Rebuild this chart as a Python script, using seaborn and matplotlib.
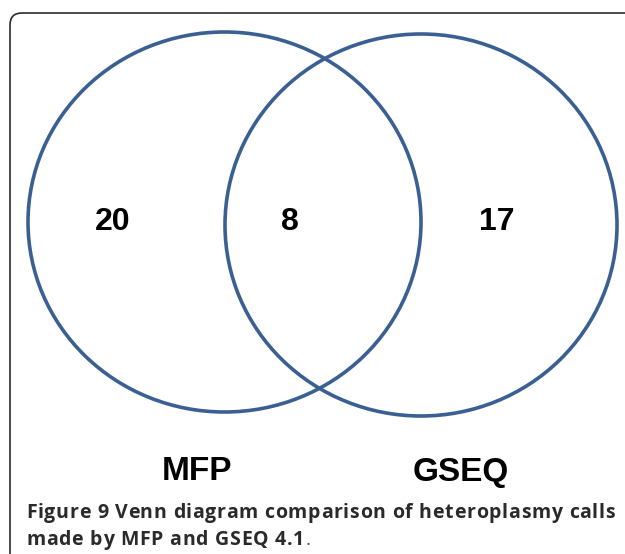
import matplotlib
matplotlib.use("Agg")
import matplotlib.pyplot as plt
import matplotlib.patches as mpatches
import seaborn as sns

# Venn data
set_names = ["MFP", "GSEQ"]
region_counts = [20, 8, 17]          # MFP only, both, GSEQ only
caption_line_1 = "Figure 9 Venn diagram comparison of heteroplasmy calls"
caption_line_2 = "made by MFP and GSEQ 4.1"

sns.set_theme(style="white")
plt.rcParams['font.family'] = ['Liberation Sans', 'DejaVu Sans']

W, H = 625, 554
fig = plt.figure(figsize=(W / 100, H / 100), dpi=100)
ax = fig.add_axes([0, 0, 1, 1])
ax.set_xlim(0, W)
ax.set_ylim(H, 0)
ax.axis('off')

# outer frame (rounded top-left, runs off right and bottom)
frame = mpatches.FancyBboxPatch((10, 13), 800, 800,
                                boxstyle="round,pad=0,rounding_size=12",
                                facecolor='none', edgecolor='#2b2b2b', lw=1.2)
ax.add_patch(frame)

# circle layout (pixel coords)
circles = [(224.5, 222, 393, 380), (421, 225, 392, 382)]
line_col = '#3a5f92'
for cx, cy, w, h in circles:
    ax.add_patch(mpatches.Ellipse((cx, cy), w, h, facecolor='none',
                                  edgecolor=line_col, lw=2.6))

count_x = [113, 290, 497]
for x, n in zip(count_x, region_counts):
    ax.text(x, 222, str(n), ha='center', va='center', fontsize=23,
            fontweight='bold', color='black')

name_x = [197, 461]
for x, name in zip(name_x, set_names):
    ax.text(x, 472, name, ha='center', va='center', fontsize=24,
            fontweight='bold', color='black')

# caption with letter spacing
cap_font = dict(family=['Open Sans', 'DejaVu Sans'], fontsize=14,
                fontweight='bold', color='#2a2a2a')
fig.canvas.draw()
renderer = fig.canvas.get_renderer()


def text_width(s, **kw):
    t = ax.text(0, 0, s, **kw)
    w = t.get_window_extent(renderer).width
    t.remove()
    return w


def spaced_text(x0, y, s, spacing, **kw):
    for i, ch in enumerate(s):
        if ch == ' ':
            continue
        px = x0 + text_width(s[:i], **kw) + i * spacing if i else x0
        ax.text(px, y, ch, ha='left', va='baseline', **kw)
    return x0 + text_width(s, **kw) + (len(s) - 1) * spacing


x0, x1 = 26, 615
nat1 = text_width(caption_line_1, **cap_font)
sp = (x1 - x0 - nat1) / (len(caption_line_1) - 1)
spaced_text(x0, 518, caption_line_1, sp, **cap_font)
end2 = spaced_text(x0, 545, caption_line_2, sp, **cap_font)
ax.text(end2 + sp + 1, 545, ".", ha='left', va='baseline',
        family=['Open Sans', 'DejaVu Sans'], fontsize=14, color='#555555')

fig.savefig("out.png", dpi=100)
